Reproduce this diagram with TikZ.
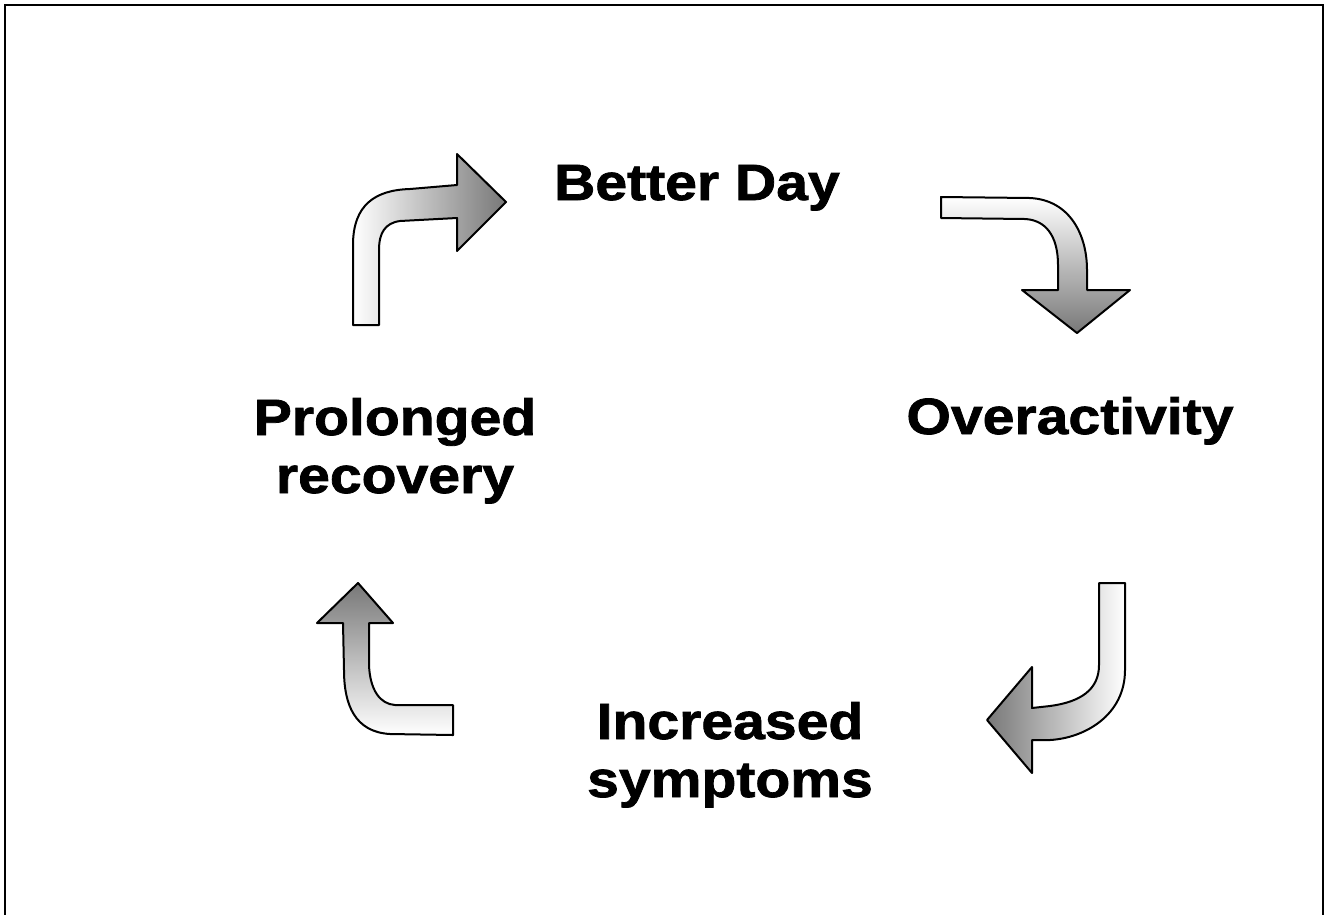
\documentclass[tikz,border=0pt]{standalone}
\usepackage{fontspec}
\setsansfont{Liberation Sans}[FakeStretch=1.12, FakeBold=1.5]
\usepackage{tikz}

\begin{document}
\begin{tikzpicture}[x=1pt, y=-1pt,
  stage/.style={font=\fontsize{51}{58}\selectfont\sffamily\bfseries, align=center, inner sep=0pt, anchor=base},
  bentarrow/.style={draw=black, line width=2pt, line join=round}]
  \useasboundingbox (0,0) rectangle (1324,914);
  % Frame (bottom edge runs off the page)
  \draw[line width=2.4pt] (5,930) -- (5,5) -- (1323,5) -- (1323,930);
  % Stage labels (base = last line)
  \node[stage] (better) at (697,200) {Better Day};
  \node[stage] (overact) at (1070,434) {Overactivity};
  \node[stage] (symptoms) at (730,797) {Increased\\symptoms};
  \node[stage] (recovery) at (395,493) {Prolonged\\recovery};
  % Recovery -> better day
  \path[bentarrow, left color=white, right color=black!53]
    (353,325) -- (353,245) .. controls (353,205) and (375,190) .. (410,189)
    -- (457,185) -- (457,154) -- (506,202) -- (457,251) -- (457,218)
    -- (400,221) .. controls (385,223) and (379,233) .. (379,250)
    -- (379,325) -- cycle;
  % Better day -> overactivity
  \path[bentarrow, top color=white, bottom color=black!53]
    (941,197) -- (1030,198) .. controls (1070,200) and (1087,235) .. (1087,270)
    -- (1087,290) -- (1130,290) -- (1077,333) -- (1022,290) -- (1058,290)
    -- (1058,265) .. controls (1058,235) and (1045,220) .. (1025,219)
    -- (941,218) -- cycle;
  % Overactivity -> symptoms
  \path[bentarrow, right color=white, left color=black!53]
    (1125,583) -- (1125,670) .. controls (1125,715) and (1085,738) .. (1050,740)
    -- (1032,740) -- (1032,773) -- (987,720) -- (1032,667) -- (1032,708)
    -- (1050,706) .. controls (1080,702) and (1099,690) .. (1099,665)
    -- (1099,583) -- cycle;
  % Symptoms -> recovery
  \path[bentarrow, bottom color=white, top color=black!53]
    (453,735) -- (390,734) .. controls (355,732) and (344,705) .. (344,670)
    -- (343,623) -- (317,623) -- (358,583) -- (393,623) -- (369,623)
    -- (369,665) .. controls (370,690) and (380,704) .. (395,705)
    -- (453,705) -- cycle;
\end{tikzpicture}
\end{document}
